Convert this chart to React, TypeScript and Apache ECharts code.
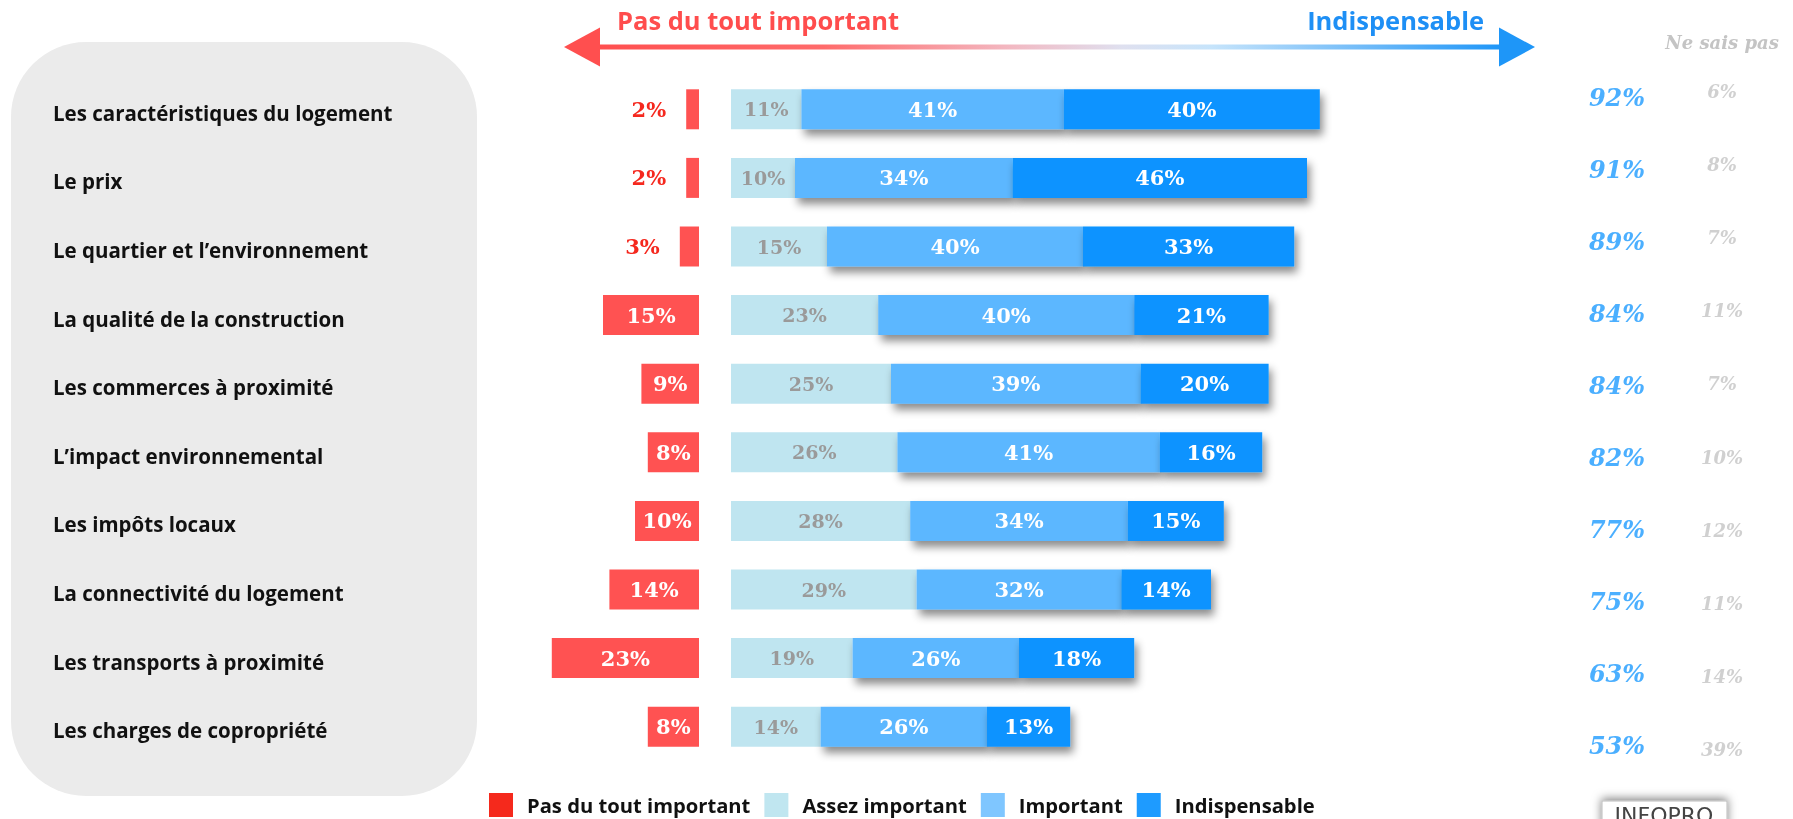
import React, { useEffect, useRef } from "react";
import * as echarts from "echarts";

const categories = [
  "Les caractéristiques du logement",
  "Le prix",
  "Le quartier et l’environnement",
  "La qualité de la construction",
  "Les commerces à proximité",
  "L’impact environnemental",
  "Les impôts locaux",
  "La connectivité du logement",
  "Les transports à proximité",
  "Les charges de copropriété",
];
const pasDuTout = [2, 2, 3, 15, 9, 8, 10, 14, 23, 8];
const assez = [11, 10, 15, 23, 25, 26, 28, 29, 19, 14];
const important = [41, 34, 40, 40, 39, 41, 34, 32, 26, 26];
const indispensable = [40, 46, 33, 21, 20, 16, 15, 14, 18, 13];
const totals = [92, 91, 89, 84, 84, 82, 77, 75, 63, 53];
const neSaisPas = [6, 8, 7, 11, 7, 10, 12, 11, 14, 39];
const legendNames = ["Pas du tout important", "Assez important", "Important", "Indispensable"];
const gapOffset = 5;

const SANS = "'Open Sans', 'Noto Sans', sans-serif";
const SERIF = "'DejaVu Serif', serif";

export default function App() {
  const ref = useRef<HTMLDivElement>(null);
  useEffect(() => {
    if (!ref.current) return;
    const chart = echarts.init(ref.current, null, { renderer: "svg" });
    const barW = 40;
    const valLabel = (color: string, size: number) => ({
      show: true,
      position: "inside",
      color,
      fontFamily: SERIF,
      fontWeight: "bold",
      fontSize: size,
      formatter: (p: any) => Math.abs(p.value) + "%",
    });
    const shadowStyle = {
      shadowBlur: 8,
      shadowOffsetX: 3,
      shadowOffsetY: 6,
      shadowColor: "rgba(0,0,0,0.45)",
    };
    const arrowGrad = new echarts.graphic.LinearGradient(0, 0, 1, 0, [
      { offset: 0, color: "#ff4f4f" },
      { offset: 0.25, color: "#ff6b6b" },
      { offset: 0.45, color: "#f3b6bf" },
      { offset: 0.58, color: "#dfe0ef" },
      { offset: 0.68, color: "#c6e4fb" },
      { offset: 0.85, color: "#6fbaf8" },
      { offset: 1, color: "#1e96f8" },
    ]);
    chart.setOption({
      animation: false,
      grid: [
        { left: 475, width: 896, top: 75, height: 686 },
        { left: 1577, width: 80, top: 61, height: 720 },
        { left: 1682, width: 80, top: 54.5, height: 732 },
      ],
      xAxis: [
        { type: "value", gridIndex: 0, min: -40, max: 100, show: false, splitLine: { show: false } },
        { type: "value", gridIndex: 1, min: -1, max: 1, show: false },
        { type: "value", gridIndex: 2, min: -1, max: 1, show: false },
      ],
      yAxis: [
        {
          type: "category",
          gridIndex: 0,
          data: categories,
          inverse: true,
          axisLine: { show: false },
          axisTick: { show: false },
          axisLabel: {
            align: "left",
            margin: 422,
            formatter: (v: string) => `{a|${v}}`,
            rich: {
              a: {
                color: "#111",
                fontFamily: SANS,
                fontWeight: "bold",
                fontSize: 20.5,
                padding: [7, 0, 0, 0],
              },
            },
          },
        },
        { type: "category", gridIndex: 1, data: categories, inverse: true, show: false },
        { type: "category", gridIndex: 2, data: categories, inverse: true, show: false },
      ],
      legend: {
        data: [
          { name: legendNames[0], itemStyle: { color: "#f5291c" } },
          { name: legendNames[1], itemStyle: { color: "#c0e6f0" } },
          { name: legendNames[2], itemStyle: { color: "#7fc6ff" } },
          { name: legendNames[3], itemStyle: { color: "#1e9bff" } },
        ],
        left: 489,
        top: 793,
        padding: 0,
        icon: "rect",
        itemWidth: 24,
        itemHeight: 24,
        itemGap: 14,
        selectedMode: false,
        textStyle: {
          fontFamily: SANS,
          fontWeight: "bold",
          fontSize: 20.2,
          lineHeight: 22,
          color: "#111",
          padding: [0, 0, 0, 9],
        },
      },
      series: [
        {
          name: "_offset",
          type: "bar",
          stack: "all",
          barWidth: barW,
          silent: true,
          data: categories.map(() => -gapOffset),
          itemStyle: { color: "rgba(0,0,0,0)" },
          label: { show: false },
        },
        {
          name: legendNames[0],
          type: "bar",
          stack: "all",
          barWidth: barW,
          itemStyle: { color: "#ff5252" },
          data: pasDuTout.map((v) =>
            v < 5
              ? {
                  value: -v,
                  label: {
                    show: true,
                    position: "left",
                    distance: 20,
                    color: "#f5281e",
                    fontFamily: SERIF,
                    fontWeight: "bold",
                    fontSize: 21,
                    formatter: (p: any) => Math.abs(p.value) + "%",
                  },
                }
              : { value: -v }
          ),
          label: valLabel("#ffffff", 21),
        },
        {
          name: legendNames[1],
          type: "bar",
          stack: "all",
          barWidth: barW,
          itemStyle: { color: "#bfe5f0" },
          data: assez,
          label: valLabel("#9a9a9a", 19),
        },
        {
          name: legendNames[2],
          type: "bar",
          stack: "all",
          barWidth: barW,
          itemStyle: { color: "#5cb7ff", ...shadowStyle },
          data: important,
          label: valLabel("#ffffff", 21),
        },
        {
          name: legendNames[3],
          type: "bar",
          stack: "all",
          barWidth: barW,
          itemStyle: { color: "#0a93ff", ...shadowStyle },
          data: indispensable,
          label: valLabel("#ffffff", 21),
        },
        {
          name: "_totals",
          type: "scatter",
          xAxisIndex: 1,
          yAxisIndex: 1,
          symbolSize: 1,
          silent: true,
          itemStyle: { color: "rgba(0,0,0,0)" },
          data: totals.map((v, i) => [0, i, v]),
          label: {
            show: true,
            position: "inside",
            color: "#1e9bff",
            fontFamily: SERIF,
            fontWeight: "bold",
            fontStyle: "italic",
            fontSize: 24,
            formatter: (p: any) => p.value[2] + "%",
          },
        },
        {
          name: "_nsp",
          type: "scatter",
          xAxisIndex: 2,
          yAxisIndex: 2,
          symbolSize: 1,
          silent: true,
          itemStyle: { color: "rgba(0,0,0,0)" },
          data: neSaisPas.map((v, i) => [0, i, v]),
          label: {
            show: true,
            position: "inside",
            color: "#c4c4c4",
            fontFamily: SERIF,
            fontWeight: "bold",
            fontStyle: "italic",
            fontSize: 18,
            formatter: (p: any) => p.value[2] + "%",
          },
        },
      ],
      graphic: [
        {
          type: "rect",
          z: -10,
          shape: { x: 11, y: 42, width: 466, height: 754, r: 75 },
          style: { fill: "#ebebeb" },
        },
        {
          type: "rect",
          shape: { x: 598, y: 44.5, width: 903, height: 5 },
          style: { fill: arrowGrad },
        },
        {
          type: "polygon",
          shape: { points: [[564, 47], [600, 27.5], [600, 66.5]] },
          style: { fill: "#ff4f4f" },
        },
        {
          type: "polygon",
          shape: { points: [[1535, 47], [1499, 27.5], [1499, 66.5]] },
          style: { fill: "#1e96f8" },
        },
        {
          type: "text",
          x: 617,
          y: 20,
          style: {
            text: "Pas du tout important",
            fill: "#ff4d4d",
            font: `bold 25.5px ${SANS}`,
            textAlign: "left",
            textVerticalAlign: "middle",
          },
        },
        {
          type: "text",
          x: 1484,
          y: 20,
          style: {
            text: "Indispensable",
            fill: "#1e8ff5",
            font: `bold 25.5px ${SANS}`,
            textAlign: "right",
            textVerticalAlign: "middle",
          },
        },
        {
          type: "text",
          x: 1722,
          y: 42,
          style: {
            text: "Ne sais pas",
            fill: "#c4c4c4",
            font: `italic bold 18px ${SERIF}`,
            textAlign: "center",
            textVerticalAlign: "middle",
          },
        },
        {
          type: "rect",
          shape: { x: 1602, y: 801, width: 125, height: 40 },
          style: {
            fill: "#ffffff",
            stroke: "#bbbbbb",
            lineWidth: 1,
            shadowBlur: 10,
            shadowOffsetY: -2,
            shadowColor: "rgba(0,0,0,0.5)",
          },
        },
        {
          type: "text",
          x: 1664,
          y: 804,
          style: {
            text: "INFOPRO",
            fill: "#444444",
            font: `22px 'DejaVu Sans', sans-serif`,
            textAlign: "center",
            textVerticalAlign: "top",
          },
        },
      ],
    });
    return () => chart.dispose();
  }, []);
  return (
    <div
      ref={ref}
      style={{ position: "fixed", left: 0, top: 0, width: 1793, height: 819 }}
    />
  );
}
